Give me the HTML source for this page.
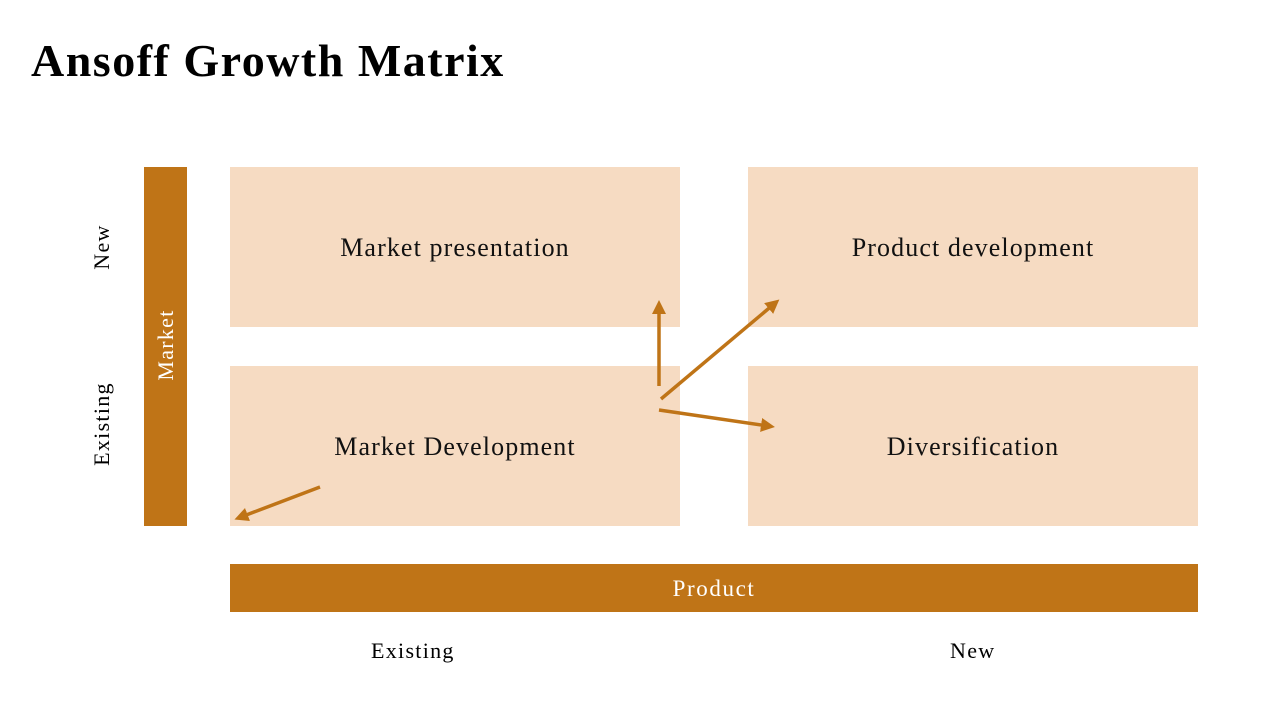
<!DOCTYPE html>
<html><head><meta charset="utf-8"><style>
body{margin:0;width:1280px;height:720px;background:#fff;position:relative;overflow:hidden;font-family:"Liberation Serif",serif}
.t{position:absolute}
.box{position:absolute;background:#f6dbc2;display:flex;align-items:center;justify-content:center;font-size:26px;letter-spacing:1.1px;color:#111}
.l{letter-spacing:1.3px}
</style></head><body>
<div class="t" style="left:31px;top:34px;font-size:46px;font-weight:bold;color:#000;letter-spacing:1.5px">Ansoff Growth Matrix</div>
<div class="box" style="left:230px;top:167px;width:450px;height:160px;padding-top:2px;box-sizing:border-box">Market presentation</div>
<div class="box" style="left:748px;top:167px;width:450px;height:160px;padding-top:2px;box-sizing:border-box">Product development</div>
<div class="box" style="left:230px;top:366px;width:450px;height:160px;padding-top:2px;box-sizing:border-box">Market Development</div>
<div class="box" style="left:748px;top:366px;width:450px;height:160px;padding-top:2px;box-sizing:border-box">Diversification</div>
<div class="t" style="left:144px;top:167px;width:43px;height:359px;background:#bf7417"></div>
<div class="t l" style="left:166px;top:345px;transform:translate(-50%,-50%) rotate(-90deg);color:#fff;font-size:22px;white-space:nowrap">Market</div>
<div class="t l" style="left:102px;top:247px;transform:translate(-50%,-50%) rotate(-90deg);font-size:22px;white-space:nowrap">New</div>
<div class="t l" style="left:102px;top:424px;transform:translate(-50%,-50%) rotate(-90deg);font-size:22px;white-space:nowrap">Existing</div>
<div class="t" style="left:230px;top:564px;width:968px;height:48px;background:#bf7417;color:#fff;font-size:23px;letter-spacing:1.6px;display:flex;align-items:center;justify-content:center;padding-top:2px;box-sizing:border-box">Product</div>
<div class="t l" style="left:371px;top:638px;font-size:22px">Existing</div>
<div class="t l" style="left:950px;top:638px;font-size:22px">New</div>
<svg class="t" style="left:0;top:0" width="1280" height="720">
<defs><marker id="a" markerWidth="4" markerHeight="4" refX="2" refY="2" orient="auto"><path d="M0,0L4,2L0,4z" fill="#bf7417"/></marker></defs>
<g stroke="#bf7417" stroke-width="3.5" marker-end="url(#a)">
<line x1="659" y1="386" x2="659" y2="307"/>
<line x1="661" y1="399" x2="774" y2="304"/>
<line x1="659" y1="410" x2="768" y2="426"/>
<line x1="320" y1="487" x2="241" y2="517"/>
</g></svg>
</body></html>
